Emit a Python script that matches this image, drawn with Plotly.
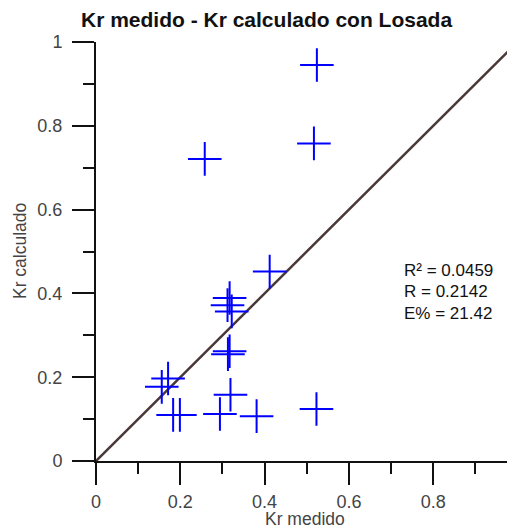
import plotly.graph_objects as go

kr_medido = [0.524, 0.258, 0.517, 0.412, 0.317, 0.312, 0.322, 0.313, 0.317,
             0.319, 0.171, 0.156, 0.183, 0.199, 0.294, 0.381, 0.523]
kr_calculado = [0.945, 0.721, 0.758, 0.452, 0.389, 0.372, 0.357, 0.255, 0.262,
                0.158, 0.197, 0.177, 0.110, 0.110, 0.112, 0.107, 0.124]
ref_line_x = [0, 1]
ref_line_y = [0, 1]
tick_vals = [0, 0.2, 0.4, 0.6, 0.8, 1]
tick_text = ["0", "0.2", "0.4", "0.6", "0.8", "1"]
stats_text = ["R² = 0.0459", "R = 0.2142", "E% = 21.42"]

FONT = "Liberation Sans, Arial, sans-serif"

fig = go.Figure()
fig.add_trace(go.Scatter(x=ref_line_x, y=ref_line_y, mode="lines",
                         line=dict(color="#4a3838", width=2.5),
                         hoverinfo="skip", showlegend=False))
fig.add_trace(go.Scatter(x=kr_medido, y=kr_calculado, mode="markers",
                         marker=dict(symbol="cross-thin", size=24,
                                     line=dict(color="#0000ff", width=2)),
                         showlegend=False))

axis_common = dict(
    showgrid=False, zeroline=False, showline=True, linecolor="#111111", linewidth=2,
    ticks="outside", ticklen=22, tickwidth=2, tickcolor="#111111",
    tickfont=dict(family=FONT, size=18, color="#444444"),
    minor=dict(ticks="outside", ticklen=11, tickwidth=2, tickcolor="#111111", dtick=0.1),
    mirror=False, tickvals=tick_vals, ticktext=tick_text,
)

fig.update_layout(
    width=507, height=523,
    margin=dict(l=88, r=0, t=34, b=70),
    paper_bgcolor="white", plot_bgcolor="white",
    xaxis=dict(range=[0, 0.994], ticklabelstandoff=1, **axis_common),
    yaxis=dict(range=[0, 1], ticklabelstandoff=6, **axis_common),
    font=dict(family=FONT),
)

def px_x(p):
    return (p - 96) / 419

def px_y(p):
    return (461 - p) / 419

fig.add_annotation(xref="paper", yref="paper", x=px_x(266.5), y=px_y(19),
                   text="<b>Kr medido - Kr calculado con Losada</b>", showarrow=False,
                   xanchor="center", yanchor="middle",
                   font=dict(family=FONT, size=21, color="#111111"))
fig.add_annotation(xref="paper", yref="paper", x=px_x(305), y=px_y(519),
                   text="Kr medido", showarrow=False, xanchor="center", yanchor="middle",
                   font=dict(family=FONT, size=17.5, color="#444444"))
fig.add_annotation(xref="paper", yref="paper", x=px_x(20), y=px_y(251),
                   text="Kr calculado", showarrow=False, textangle=-90,
                   xanchor="center", yanchor="middle",
                   font=dict(family=FONT, size=17.5, color="#444444"))
for i, t in enumerate(stats_text):
    fig.add_annotation(xref="paper", yref="paper", x=px_x(402),
                       y=px_y(270 + 21.5 * i),
                       text=t, showarrow=False, xanchor="left", yanchor="middle",
                       font=dict(family=FONT, size=17, color="#111111"))

fig.write_html("out.html")
